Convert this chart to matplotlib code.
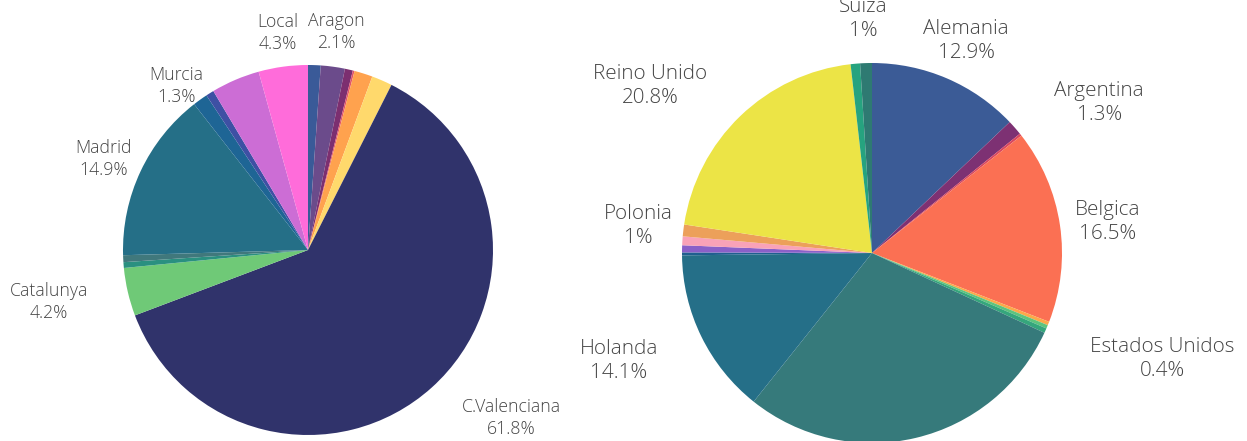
import numpy as np
import matplotlib.pyplot as plt
from matplotlib.patches import Rectangle

plt.rcParams['font.family'] = ['Open Sans', 'DejaVu Sans']

# Visitantes nacionales por comunidad (%)
nac_nombres = ['Andalucia', 'Aragon', 'Asturias', 'Baleares', 'C.La Mancha', 'C.Leon',
               'C.Valenciana', 'Catalunya', 'Extremadura', 'Galicia', 'Madrid',
               'Murcia', 'Navarra', 'Pais Vasco', 'Local']
nac_pct = [1.1, 2.1, 0.7, 0.15, 1.6, 1.8, 61.8, 4.2, 0.5, 0.6, 14.9, 1.3, 0.7, 4.25, 4.3]
nac_colores = ['#3a5a98', '#6b4b8b', '#7c2f70', '#e0546a', '#ffa24e', '#ffd96c',
               '#30336b', '#6fc977', '#2a9080', '#40787c', '#256f87', '#1e6595',
               '#3e50a4', '#cc6dd5', '#ff6cda']
nac_visibles = ['Local', 'Aragon', 'Murcia', 'Madrid', 'Catalunya', 'C.Valenciana']

# Visitantes internacionales por pais (%)
int_nombres = ['Alemania', 'Argentina', 'Austria', 'Belgica', 'China', 'Dinamarca',
               'Estados Unidos', 'Francia', 'Holanda', 'Irlanda', 'Italia', 'Noruega',
               'Polonia', 'Reino Unido', 'Suecia', 'Suiza']
int_pct = [12.9, 1.3, 0.2, 16.5, 0.3, 0.3, 0.4, 28.8, 14.1, 0.25, 0.6, 0.75, 1.0, 20.8, 0.8, 1.0]
int_colores = ['#3b5b96', '#7d3173', '#d9475e', '#fb7053', '#fca84a', '#5ec47d',
               '#35a67c', '#367a7b', '#256f88', '#1f5f8f', '#8a60c8', '#f9a2b8',
               '#eca05a', '#ece446', '#26a37f', '#2e7a72']
int_visibles = ['Suiza', 'Alemania', 'Argentina', 'Belgica', 'Estados Unidos',
                'Holanda', 'Polonia', 'Reino Unido']

W, H = 1247, 441
fig = plt.figure(figsize=(W / 100, H / 100), dpi=100)
ax = fig.add_axes([0, 0, 1, 1])

# desplazamientos manuales de etiquetas (px, y hacia arriba)
ajustes_nac = {'Local': (29, -11), 'Aragon': (-38, -10), 'Murcia': (28, -20),
               'Madrid': (24, -2), 'Catalunya': (-5, -3), 'C.Valenciana': (3, -1)}
ajustes_int = {'Belgica': (-22, -1), 'Polonia': (26, 1), 'Alemania': (-45, -5),
               'Reino Unido': (-4, 0), 'Holanda': (-9, -9), 'Estados Unidos': (10, -14),
               'Argentina': (9, -2), 'Suiza': (33, -4)}


def tarta(valores, colores, centro, radio):
    wedges, _ = ax.pie(valores, colors=colores, center=centro, radius=radio,
                       startangle=90, counterclock=False, frame=True,
                       wedgeprops=dict(linewidth=0))
    return wedges


def etiquetar(wedges, nombres, valores, visibles, centro, radio, fs, ajustes, renderer, clip):
    total = sum(valores)
    for w, nom, v in zip(wedges, nombres, valores):
        if nom not in visibles:
            continue
        t = ax.text(0, 0, f'{nom}\n{v / total * 100:.3g}%', ha='center', va='center',
                    fontsize=fs, color='#444444', fontweight='light',
                    linespacing=1.3)
        t.set_clip_path(clip)
        bb = t.get_window_extent(renderer)
        ang = np.deg2rad((w.theta1 + w.theta2) / 2)
        x = radio * 1.135 * np.cos(ang)
        y = radio * 1.135 * np.sin(ang)
        dx = bb.width / 2 * np.sign(x)
        dy = bb.height / 2 * np.sign(y)
        ox = dx + abs(dy) / 2 * np.sign(dx)
        oy = dy / (1 + x * x / (y * y))
        nx, ny = ajustes.get(nom, (0, 0))
        t.set_position((centro[0] + x + ox + nx, centro[1] + y + oy + ny))


c_nac, r_nac = (308, 191), 185
c_int, r_int = (872, 188), 190
w_nac = tarta(nac_pct, nac_colores, c_nac, r_nac)
w_int = tarta(int_pct, int_colores, c_int, r_int)

ax.set_xlim(0, W)
ax.set_ylim(0, H)
ax.set_aspect('equal')
ax.axis('off')

# zona visible del grafico (el texto de la derecha queda recortado)
zona = Rectangle((0, 0), 1234, H, transform=ax.transData, visible=False)

fig.canvas.draw()
rend = fig.canvas.get_renderer()
etiquetar(w_nac, nac_nombres, nac_pct, nac_visibles, c_nac, r_nac, 12.7, ajustes_nac, rend, zona)
etiquetar(w_int, int_nombres, int_pct, int_visibles, c_int, r_int, 14.9, ajustes_int, rend, zona)

fig.savefig('out.png', dpi=100)
